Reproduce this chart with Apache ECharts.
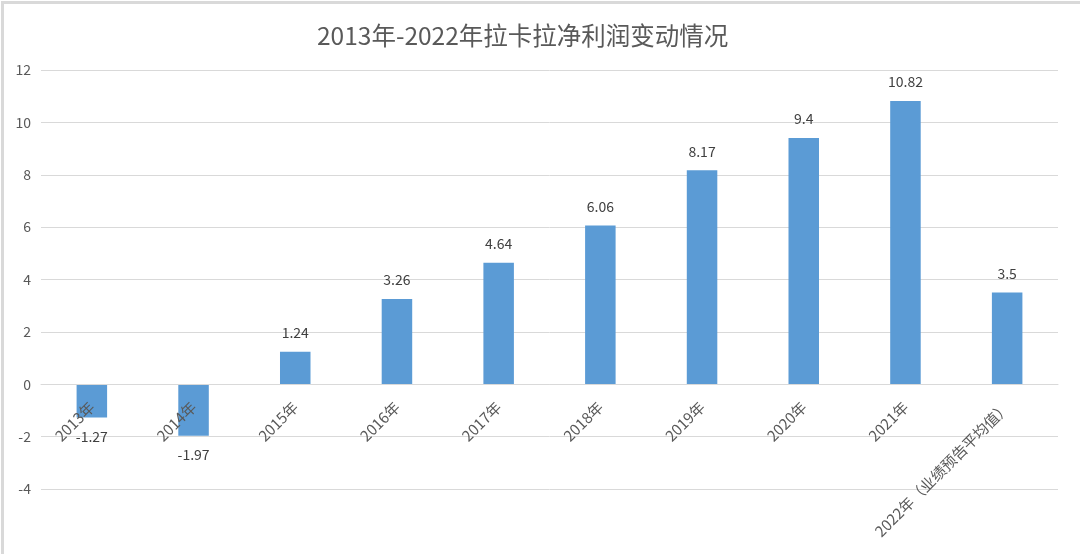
<!DOCTYPE html>
<html><head><meta charset="utf-8">
<script src="https://cdn.jsdelivr.net/npm/echarts@6/dist/echarts.min.js"></script>
<style>html,body{margin:0;padding:0;background:#fff}#c{width:1080px;height:554px}</style>
</head><body><div id="c"></div>
<script>
const categories = ['2013年','2014年','2015年','2016年','2017年','2018年','2019年','2020年','2021年','2022年（业绩预告平均值）'];
const netProfit = [-1.27, -1.97, 1.24, 3.26, 4.64, 6.06, 8.17, 9.4, 10.82, 3.5];
const titleText = '2013年-2022年拉卡拉净利润变动情况';
const yMin = -4, yMax = 12, yStep = 2;
const gridTop = 70, gridBottom = 65, H = 554;
const plotH = H - gridTop - gridBottom;
// move the category axis up to the zero line (onZero not honoured here)
const zeroOffset = -((0 - yMin) / (yMax - yMin)) * plotH;
const chart = echarts.init(document.getElementById('c'));
chart.setOption({
  backgroundColor: '#fff',
  animation: false,
  title: {text: titleText, left: 312, top: 18,
    textStyle: {fontFamily: 'Noto Sans CJK SC', fontSize: 24.5, fontWeight: 'normal', color: '#595959'}},
  graphic: [{type: 'rect', left: 0, top: 0, shape: {width: 1079, height: 553},
    style: {fill: 'none', stroke: '#d9d9d9', lineWidth: 3}, silent: true}],
  grid: {left: 41, right: 22, top: gridTop, bottom: gridBottom, containLabel: false, outerBoundsMode: 'none'},
  xAxis: {type: 'category', data: categories, offset: zeroOffset, z: 5,
    axisLine: {onZero: false, lineStyle: {color: '#d9d9d9', width: 1}},
    axisTick: {show: false},
    axisLabel: {rotate: 45, margin: 20, interval: 0, hideOverlap: false, color: '#595959', fontSize: 15, fontFamily: 'Noto Sans CJK SC'}},
  yAxis: {type: 'value', min: yMin, max: yMax, interval: yStep,
    axisLine: {show: false}, axisTick: {show: false},
    splitLine: {lineStyle: {color: '#d9d9d9', width: 1}},
    axisLabel: {margin: 10, color: '#595959', fontSize: 14, fontFamily: 'Noto Sans CJK SC'}},
  series: [{type: 'bar', data: netProfit, barWidth: '30%', z: 2,
    itemStyle: {color: '#5B9BD5'},
    label: {show: true, position: 'outside', distance: 12, color: '#404040', fontSize: 14, fontFamily: 'Noto Sans CJK SC'}}]
});
</script></body></html>
